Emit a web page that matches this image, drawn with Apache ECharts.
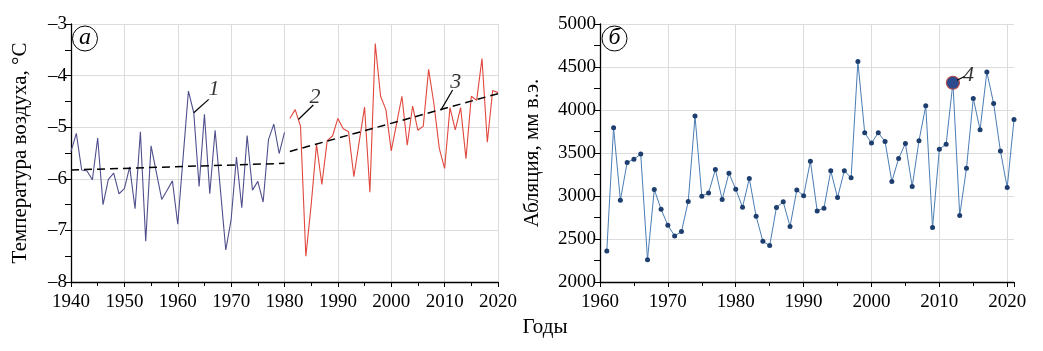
<!DOCTYPE html>
<html>
<head>
<meta charset="utf-8">
<script src="https://cdn.jsdelivr.net/npm/echarts@6.0.0/dist/echarts.min.js"></script>
<style>
  html, body { margin: 0; padding: 0; background: #fff; }
  #chart { width: 1043px; height: 351px; }
</style>
</head>
<body>
<div id="chart"></div>
<script>
const FONT = '"Liberation Serif", "Times New Roman", serif';

// а: air temperature, °C
const tempYearsEarly = range(1940, 1980);
const tempEarly = [
  -5.47, -5.12, -5.83, -5.85, -6.02, -5.21, -6.50, -6.01, -5.89, -6.29,
  -6.19, -5.77, -6.58, -5.09, -7.21, -5.36, -5.88, -6.40, -6.22, -6.04,
  -6.88, -5.59, -4.30, -4.72, -6.15, -4.75, -6.29, -5.06, -6.22, -7.38,
  -6.79, -5.58, -6.56, -5.16, -6.22, -6.05, -6.45, -5.24, -4.94, -5.51,
  -5.10,
];
const tempYearsLate = range(1981, 2020);
const tempLate = [
  -4.83, -4.66, -4.98, -7.50, -6.50, -5.33, -6.11, -5.26, -5.17, -4.83,
  -5.03, -5.09, -5.96, -5.28, -4.61, -6.26, -3.38, -4.40, -4.66, -5.46,
  -4.93, -4.40, -5.35, -4.59, -5.06, -4.98, -3.88, -4.55, -5.41, -5.80,
  -4.62, -5.05, -4.62, -5.61, -4.40, -4.48, -3.67, -5.29, -4.29, -4.33,
];
const trendEarly = [[1940, -5.83], [1980, -5.70]];
const trendLate = [[1981, -5.47], [2020, -4.35]];

// б: ablation, mm w.e.
const ablYears = range(1961, 2021);
const ablation = [
  2361, 3793, 2951, 3390, 3428, 3487, 2260, 3075, 2846, 2660,
  2536, 2586, 2936, 3929, 2998, 3036, 3308, 2959, 3265, 3079,
  2870, 3203, 2765, 2474, 2423, 2866, 2932, 2645, 3071, 3002,
  3405, 2827, 2858, 3293, 2982, 3293, 3211, 4565, 3735, 3615,
  3735, 3634, 3168, 3436, 3611, 3110, 3642, 4049, 2633, 3545,
  3603, 4317, 2773, 3324, 4135, 3770, 4441, 4076, 3522, 3099,
  3890,
];
const ablHighlightYear = 2012;

// callouts: label, leader start, leader end, label point
const tempNotes = [
  ['1', [1963, -4.72], [1965.8, -4.46], [1966.8, -4.27]],
  ['2', [1982.6, -4.85], [1985.4, -4.57], [1985.7, -4.41]],
  ['3', [2009.3, -4.67], [2011.5, -4.28], [2012.1, -4.13]],
];
const ablNotes = [
  ['4', [2012.6, 4345], [2013.7, 4390], [2014.3, 4410]],
];

function range(a, b) {
  const out = [];
  for (let y = a; y <= b; y++) out.push(y);
  return out;
}

function zip(xs, ys) {
  return xs.map((x, i) => [x, ys[i]]);
}

const axisLine = { lineStyle: { color: '#000', width: 1.3 } };
const gridLine = { show: true, lineStyle: { color: '#dcdcdc', width: 1 } };
const labelStyle = { color: '#000', fontFamily: FONT, fontSize: 19 };

function xAxisFor(gridIndex, min, max) {
  return {
    type: 'value',
    gridIndex,
    min,
    max,
    interval: 10,
    axisLine,
    axisTick: { show: true, length: 5, lineStyle: { color: '#000' } },
    minorTick: { show: true, splitNumber: 2, length: 4, lineStyle: { color: '#000' } },
    splitLine: { ...gridLine, showMaxLine: max % 10 === 0 },
    axisLabel: { ...labelStyle, margin: 11, showMaxLabel: max % 10 === 0, formatter: (v) => String(v) },
  };
}

function yAxisFor(gridIndex, min, max, interval, name, nameGap, fmt) {
  return {
    type: 'value',
    gridIndex,
    min,
    max,
    interval,
    name,
    nameLocation: 'middle',
    nameRotate: 90,
    nameGap,
    nameTextStyle: { color: '#000', fontFamily: FONT, fontSize: 21 },
    axisLine: { show: true, ...axisLine },
    axisTick: { show: true, length: 6, lineStyle: { color: '#000' } },
    minorTick: { show: true, splitNumber: 2, length: 6, lineStyle: { color: '#000' } },
    splitLine: gridLine,
    axisLabel: { ...labelStyle, margin: 4, formatter: fmt },
  };
}

function leaderSeries(notes, idx) {
  return [
    {
      type: 'line',
      xAxisIndex: idx,
      yAxisIndex: idx,
      data: [],
      silent: true,
      z: 5,
      markLine: {
        symbol: 'none',
        silent: true,
        label: { show: false },
        lineStyle: { color: '#000', width: 1.2, type: 'solid' },
        data: notes.map((n) => [{ coord: n[1] }, { coord: n[2] }]),
      },
    },
    {
      type: 'scatter',
      xAxisIndex: idx,
      yAxisIndex: idx,
      symbolSize: 1,
      itemStyle: { color: 'rgba(0,0,0,0)' },
      silent: true,
      z: 6,
      data: notes.map((n) => ({ name: n[0], value: n[3] })),
      label: {
        show: true,
        position: 'inside',
        formatter: '{b}',
        color: '#000',
        fontFamily: FONT,
        fontStyle: 'italic',
        fontSize: 22,
      },
    },
  ];
}

function panelLetter(cx, cy, letter) {
  return {
    type: 'group',
    z: 100,
    children: [
      { type: 'circle', shape: { cx, cy, r: 12.5 }, style: { fill: '#fff', stroke: '#000', lineWidth: 1 } },
      {
        type: 'text',
        x: cx,
        y: cy - 1,
        style: {
          text: letter,
          fill: '#000',
          font: 'italic 24px ' + FONT,
          align: 'center',
          verticalAlign: 'middle',
        },
      },
    ],
  };
}

const chart = echarts.init(document.getElementById('chart'), null, { renderer: 'canvas' });

chart.setOption({
  animation: false,
  backgroundColor: '#fff',
  grid: [
    { left: 71, top: 24, width: 427, bottom: 69 },
    { left: 600, top: 24, width: 414, bottom: 69 },
  ],
  xAxis: [xAxisFor(0, 1940, 2020), xAxisFor(1, 1960, 2021)],
  yAxis: [
    yAxisFor(0, -8, -3, 1, 'Температура воздуха, °С', 40, (v) => (v < 0 ? '–' + Math.abs(v) : String(v))),
    yAxisFor(1, 2000, 5000, 500, 'Абляция, мм в.э.', 57, (v) => String(v)),
  ],
  graphic: [
    panelLetter(85, 38.5, 'а'),
    panelLetter(614.5, 38.5, 'б'),
    {
      type: 'text',
      x: 545,
      y: 327,
      style: { text: 'Годы', fill: '#000', font: '21px ' + FONT, align: 'center', verticalAlign: 'middle' },
    },
  ],
  series: [
    {
      name: '1940–1980',
      type: 'line',
      xAxisIndex: 0,
      yAxisIndex: 0,
      showSymbol: false,
      data: zip(tempYearsEarly, tempEarly),
      lineStyle: { color: '#4f4f8e', width: 1.1 },
      z: 3,
    },
    {
      name: '1981–2020',
      type: 'line',
      xAxisIndex: 0,
      yAxisIndex: 0,
      showSymbol: false,
      data: zip(tempYearsLate, tempLate),
      lineStyle: { color: '#e0473d', width: 1.1 },
      z: 3,
    },
    {
      name: 'trend 1',
      type: 'line',
      xAxisIndex: 0,
      yAxisIndex: 0,
      showSymbol: false,
      data: trendEarly,
      lineStyle: { color: '#000', width: 1.5, type: [8, 5] },
      z: 4,
    },
    {
      name: 'trend 2',
      type: 'line',
      xAxisIndex: 0,
      yAxisIndex: 0,
      showSymbol: false,
      data: trendLate,
      lineStyle: { color: '#000', width: 1.5, type: [8, 5] },
      z: 4,
    },
    ...leaderSeries(tempNotes, 0),
    {
      name: 'ablation',
      type: 'line',
      xAxisIndex: 1,
      yAxisIndex: 1,
      symbol: 'circle',
      symbolSize: 5,
      showAllSymbol: true,
      data: ablYears.map((y, i) =>
        y === ablHighlightYear
          ? {
              value: [y, ablation[i]],
              symbolSize: 13,
              itemStyle: { color: '#2c4a8e', borderColor: '#b54a4a', borderWidth: 1.2 },
            }
          : [y, ablation[i]]
      ),
      lineStyle: { color: '#4a7db4', width: 1 },
      itemStyle: { color: '#1d3e6e' },
      z: 3,
    },
    ...leaderSeries(ablNotes, 1),
  ],
});
</script>
</body>
</html>
